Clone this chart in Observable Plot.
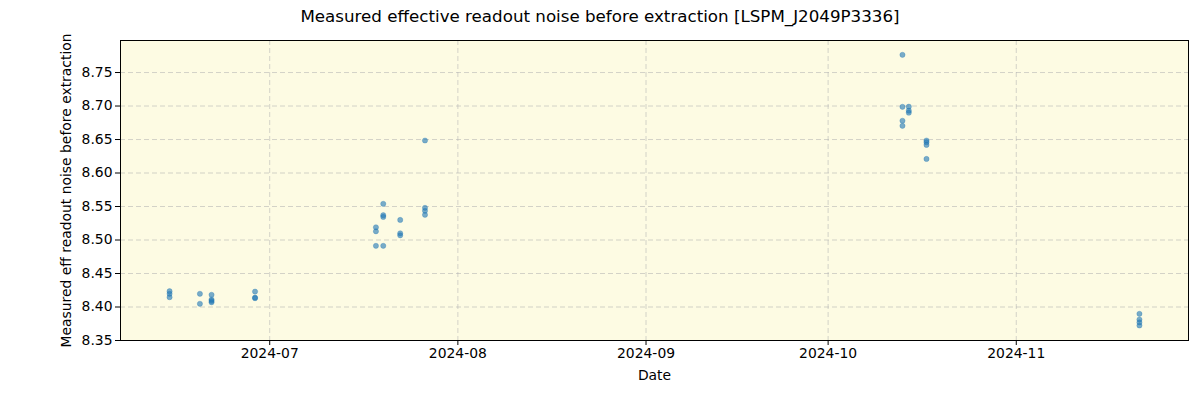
<!DOCTYPE html>
<html>
<head>
<meta charset="utf-8">
<script src="https://cdn.jsdelivr.net/npm/d3@7"></script>
<script src="https://cdn.jsdelivr.net/npm/@observablehq/plot@0.6"></script>
<style>
  body { margin: 0; background: #fff; font-family: "DejaVu Sans", sans-serif; }
  #title { height: 32px; line-height: 33px; text-align: center; font-size: 16.7px; color: #000; }
</style>
</head>
<body>
<div id="title">Measured effective readout noise before extraction [LSPM_J2049P3336]</div>
<div id="chart"></div>
<script>
const dates = [
  "2024-06-14T12:00","2024-06-14T12:00","2024-06-14T12:00",
  "2024-06-19T12:00","2024-06-19T12:00",
  "2024-06-21T10:00","2024-06-21T10:00","2024-06-21T10:00","2024-06-21T10:00",
  "2024-06-28T14:00","2024-06-28T14:00","2024-06-28T14:00",
  "2024-07-18T12:00","2024-07-18T12:00","2024-07-18T12:00",
  "2024-07-19T17:00","2024-07-19T17:00","2024-07-19T17:00","2024-07-19T17:00",
  "2024-07-22T12:00","2024-07-22T12:00","2024-07-22T12:00",
  "2024-07-26T14:00","2024-07-26T14:00","2024-07-26T14:00","2024-07-26T14:00",
  "2024-10-13T06:00","2024-10-13T06:00","2024-10-13T06:00","2024-10-13T06:00",
  "2024-10-14T07:00","2024-10-14T07:00","2024-10-14T07:00",
  "2024-10-17T05:00","2024-10-17T05:00","2024-10-17T05:00","2024-10-17T05:00",
  "2024-11-21T07:00","2024-11-21T07:00","2024-11-21T07:00","2024-11-21T07:00"
];
const noise = [
  8.4236, 8.4197, 8.4146,
  8.4197, 8.4048,
  8.4182, 8.4110, 8.4090, 8.4070,
  8.4230, 8.4140, 8.4132,
  8.5190, 8.5130, 8.4913,
  8.5540, 8.5370, 8.5345, 8.4913,
  8.5300, 8.5100, 8.5070,
  8.6485, 8.5480, 8.5436, 8.5376,
  8.7764, 8.6988, 8.6780, 8.6704,
  8.6990, 8.6930, 8.6900,
  8.6485, 8.6460, 8.6420, 8.6210,
  8.3898, 8.3813, 8.3770, 8.3724
];
const yTicks = [8.35, 8.40, 8.45, 8.50, 8.55, 8.60, 8.65, 8.70, 8.75];
const xTickLabels = ["2024-07-01","2024-08-01","2024-09-01","2024-10-01","2024-11-01"];
const xDomain = ["2024-06-06T10:00","2024-11-29T09:00"];
const yDomain = [8.35, 8.7978];

const data = dates.map((d, i) => ({date: new Date(d), value: noise[i]}));
const xTicks = xTickLabels.map(d => new Date(d + "T00:00"));

const chart = Plot.plot({
  width: 1200,
  height: 368,
  marginTop: 8,
  marginBottom: 60,
  marginLeft: 120,
  marginRight: 12,
  style: {fontFamily: "DejaVu Sans, sans-serif", fontSize: "13.9px", color: "#000", background: "#fff"},
  x: {type: "time", domain: xDomain.map(d => new Date(d)), ticks: xTicks, tickFormat: d3.timeFormat("%Y-%m"),
      label: "Date", labelAnchor: "center", labelArrow: "none", labelOffset: 39, tickSize: 5, tickPadding: 3},
  y: {domain: yDomain, ticks: yTicks, tickFormat: d3.format(".2f"),
      label: "Measured eff readout noise before extraction", labelAnchor: "center", labelArrow: "none", labelOffset: 59, tickSize: 5, tickPadding: 3},
  marks: [
    Plot.frame({fill: "#fdfbe3"}),
    Plot.gridX(xTicks, {stroke: "#b0b0b0", strokeOpacity: 0.55, strokeDasharray: "5,3"}),
    Plot.gridY(yTicks, {stroke: "#b0b0b0", strokeOpacity: 0.55, strokeDasharray: "5,3"}),
    Plot.dot(data, {x: "date", y: "value", r: 2.6, fill: "#1f77b4", fillOpacity: 0.6, stroke: "#1f77b4", strokeOpacity: 0.6, strokeWidth: 0.5}),
    Plot.frame({stroke: "#000", strokeWidth: 1})
  ]
});
document.getElementById("chart").appendChild(chart);
</script>
</body>
</html>
